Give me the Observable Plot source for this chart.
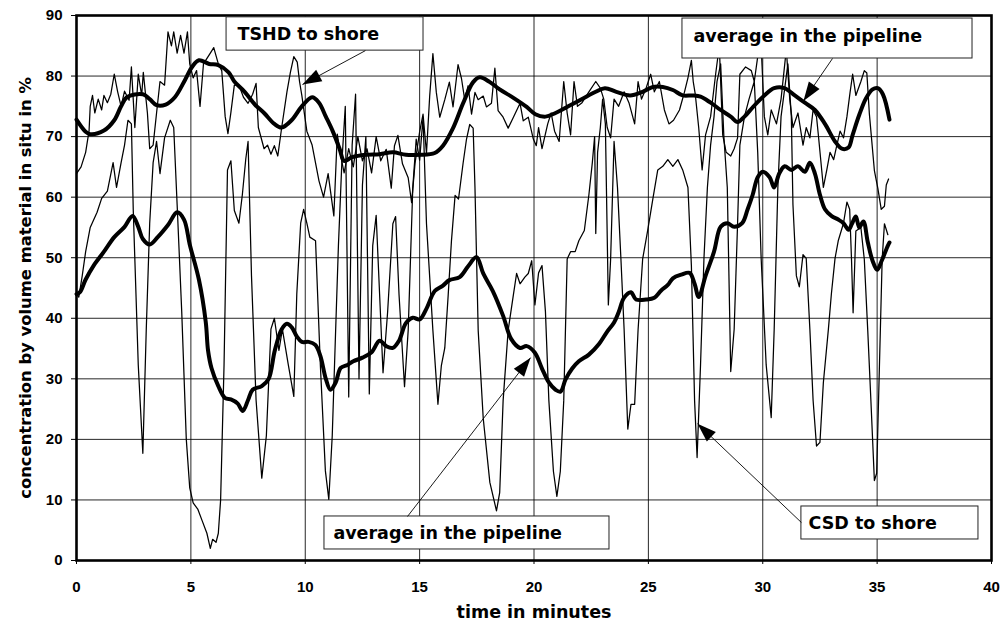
<!DOCTYPE html>
<html>
<head>
<meta charset="utf-8">
<script src="https://cdn.jsdelivr.net/npm/d3@7"></script>
<script src="https://cdn.jsdelivr.net/npm/@observablehq/plot@0.6"></script>
<style>
  html, body { margin: 0; padding: 0; background: #fff; }
  #chart { width: 1005px; height: 627px; }
</style>
</head>
<body>
<div id="chart"></div>
<script>
// Concentration by volume (% in situ) against time (minutes), [time, value]
const tshdShore = [
  [0,63.9],[0.2,65],[0.4,67.4],[0.55,71],[0.6,75],[0.7,76.8],[0.8,73.9],[0.95,76.2],[1.1,74.4],[1.2,76.8],
  [1.35,75.6],[1.5,77],[1.65,80.3],[1.8,77.4],[1.95,75],[2.1,77.5],[2.3,76],[2.4,81.5],[2.55,71.5],[2.7,80.3],
  [2.85,76.8],[2.92,80.6],[3.1,73.9],[3.2,68],[3.35,68.6],[3.5,73.9],[3.65,79.1],[3.85,78.5],[4.0,87.3],[4.15,85],
  [4.25,87.3],[4.4,83.8],[4.55,86.7],[4.7,83.8],[4.85,87.3],[4.95,82],[5.1,79.7],[5.25,80.9],[5.4,75],[5.55,82],
  [5.85,83.8],[6.0,84.7],[6.2,82],[6.35,80.9],[6.5,73.3],[6.62,70.5],[6.75,74],[6.9,78.5],[7.1,78.5],[7.3,76.5],
  [7.5,75.5],[7.7,77],[7.85,78.8],[7.95,71.5],[8.2,68],[8.35,68.6],[8.5,67.1],[8.65,68.5],[8.8,66.8],[8.97,71.5],
  [9.2,77.4],[9.35,80.6],[9.5,83.2],[9.65,82.3],[9.75,79.1],[9.85,76.8],[10.07,70.9],[10.3,68.6],[10.6,62.7],[10.8,60],
  [11.0,63.9],[11.25,56.9],[11.4,70.4],[11.55,66.8],[11.7,64],[11.9,68],[12.1,65],[12.3,70],[12.5,66],[12.7,68],
  [12.9,64],[13.1,70],[13.3,66],[13.54,67.9],[13.76,61.5],[13.9,68.5],[14.05,70.2],[14.25,65.5],[14.5,63.2],[14.65,59.1],
  [14.8,65.6],[15.0,70.8],[15.15,73.7],[15.3,67.3],[15.44,76.7],[15.58,83.7],[15.73,77.3],[15.88,73.2],[16.1,76.1],[16.3,79],
  [16.46,74.9],[16.68,81.9],[16.83,79.6],[16.97,76.1],[17.12,78.4],[17.27,73.7],[17.42,77.3],[17.56,76.1],[17.78,76.7],[17.92,74.9],
  [18.14,75.5],[18.29,81.3],[18.43,74.3],[18.65,73.2],[18.87,71.4],[19.1,73.2],[19.39,75.5],[19.53,72.6],[19.75,73.2],[19.97,69.6],
  [20.1,68.5],[20.2,71.5],[20.35,68],[20.6,72.1],[20.75,73.9],[20.9,70.9],[21.1,69.2],[21.3,79.1],[21.45,73.9],[21.6,70.3],
  [21.75,79.1],[21.9,75],[22.1,75.6],[22.4,77.4],[22.7,79.1],[22.9,78],[23.05,76.2],[23.2,71.5],[23.35,69.8],[23.5,76.2],
  [23.7,75],[23.94,77.4],[24.15,75.6],[24.4,72.1],[24.55,79.1],[24.7,76.2],[24.9,78],[25.1,80.3],[25.26,77.4],[25.48,79.1],
  [25.7,74.4],[25.9,72.1],[26.1,72.7],[26.36,74.4],[26.58,77.4],[26.73,79.7],[26.88,82.6],[26.96,79.1],[27.05,77],[27.2,71.5],
  [27.35,64.5],[27.5,70.3],[27.72,73.3],[27.94,80.3],[28.1,85],[28.25,70.3],[28.4,67.4],[28.6,66.8],[28.75,68],[28.9,69.8],
  [29.0,80.3],[29.25,81.5],[29.5,80.9],[29.63,79.1],[29.78,83.2],[29.93,85],[30.07,73.3],[30.22,70.3],[30.37,74.4],[30.6,72.1],
  [30.8,76.2],[31.03,84.4],[31.18,76.2],[31.32,71.5],[31.54,73.9],[31.76,68.6],[31.9,71.5],[32.06,69.8],[32.2,74.4],[32.35,73.3],
  [32.43,70.3],[32.65,61.6],[32.8,64.5],[32.94,67.4],[33.1,66.2],[33.24,68.6],[33.38,70.9],[33.53,69.8],[33.68,73.3],[33.82,77.4],
  [33.93,80.3],[34.07,76.8],[34.29,79.1],[34.44,80.9],[34.55,80.5],[34.66,73.8],[34.88,64.4],[35.03,61.5],[35.18,58],[35.32,58.5],
  [35.4,62],[35.5,63]
];

const tshdAverage = [
  [0,72.8],[0.4,70.8],[0.6,70.4],[1.2,71],[1.65,72.7],[1.95,75],[2.2,76.5],[2.9,77],[3.2,76.2],[3.5,75.2],
  [3.9,75.3],[4.3,76.5],[4.75,79.4],[5.05,81.5],[5.35,82.6],[5.8,82],[6.2,81.8],[6.65,80.6],[6.9,79.1],[7.35,77.4],
  [7.8,75.3],[8.2,73.9],[8.65,72.1],[8.97,71.5],[9.4,72.7],[9.85,75],[10.3,76.5],[10.6,75.6],[10.9,73.3],[11.2,70.9],
  [11.5,68],[11.7,66],[12.05,66.6],[12.65,67],[13.25,67.1],[13.83,67.4],[14.4,67],[15.0,67],[15.66,67.3],[16.02,68.5],
  [16.46,71.4],[16.9,75.5],[17.34,79],[17.63,79.8],[18.07,79],[18.5,77.8],[19.1,76.4],[19.68,74.9],[20.06,73.7],[20.5,73.3],
  [20.94,73.9],[21.5,75],[22.1,76.2],[22.7,77.4],[23.1,78],[23.6,77.4],[24.2,76.8],[24.75,77.4],[25.2,78.2],[25.63,78.2],
  [26.07,77.7],[26.5,76.8],[26.95,76.8],[27.28,76.6],[27.72,75.6],[28.16,74.4],[28.6,73.3],[28.9,72.4],[29.2,73.3],[29.6,75],
  [30.07,76.8],[30.5,78],[30.95,78],[31.4,76.8],[31.84,75.6],[32.28,74.4],[32.72,72.1],[33.16,69.2],[33.46,68],[33.75,68.2],
  [33.93,70.3],[34.22,73.6],[34.51,76.3],[34.8,77.8],[35.03,78],[35.25,77],[35.54,72.8]
];

const csdShore = [
  [0,44],[0.1,43.5],[0.25,47],[0.4,51],[0.6,55],[0.9,57.5],[1.1,59.8],[1.35,61],[1.6,65.7],[1.75,61.6],
  [1.95,65.7],[2.1,68.6],[2.25,72.7],[2.4,72.1],[2.48,58],[2.7,32.3],[2.9,17.7],[3.05,38.2],[3.2,55.7],[3.35,65.7],
  [3.5,69.2],[3.65,63.9],[3.85,69.8],[4.1,72.7],[4.25,71.5],[4.4,58.7],[4.6,41.1],[4.8,20],[4.95,12],[5.1,9.5],
  [5.3,8.5],[5.5,6.5],[5.7,4.5],[5.85,2],[5.95,3.5],[6.1,3],[6.2,4.5],[6.3,10],[6.45,32.3],[6.6,64.5],
  [6.75,66],[6.9,57.8],[7.1,55.7],[7.25,60.4],[7.4,66.3],[7.5,69.2],[7.65,47],[7.85,26.5],[8.1,13.6],[8.3,20.6],
  [8.5,38.2],[8.65,40],[8.85,34.7],[9.0,38.2],[9.26,32.3],[9.5,27.1],[9.63,44],[9.8,55.7],[9.93,58],[10.07,55.7],
  [10.2,53.4],[10.45,52.8],[10.66,32.3],[10.88,14.8],[11.03,10.1],[11.18,20.6],[11.33,38.2],[11.45,52],[11.6,65.7],[11.75,75],
  [11.9,27],[12.05,68.6],[12.2,77],[12.35,30],[12.5,62],[12.65,70],[12.8,27.5],[12.95,52],[13.1,57],[13.25,44],
  [13.4,31],[13.6,41],[13.83,55.6],[13.95,56.8],[14.1,43.9],[14.34,28.7],[14.5,38],[14.7,61.5],[14.85,69.6],[15.0,66.1],
  [15.15,73.2],[15.3,55.6],[15.58,38],[15.8,25.8],[15.95,32.2],[16.1,35.1],[16.25,43.9],[16.39,52.7],[16.55,60.3],[16.7,59.7],
  [16.9,65.6],[17.05,69.6],[17.19,72],[17.34,71.4],[17.42,61.5],[17.56,38],[17.78,23.5],[18.07,12.9],[18.36,8.2],[18.5,11.2],
  [18.65,26.4],[18.87,38],[19.1,43.9],[19.24,47.4],[19.39,45.7],[19.6,46.8],[19.75,47.4],[19.9,49.5],[20.04,42.2],[20.2,47.5],
  [20.35,48.7],[20.5,41.1],[20.65,26.4],[20.85,14.7],[21.0,10.6],[21.15,14.7],[21.3,26.4],[21.45,49.8],[21.6,51],[21.8,51],
  [21.96,52.8],[22.2,54.5],[22.4,60.4],[22.55,65.7],[22.65,70],[22.7,54],[22.78,67.4],[22.9,71.5],[23.0,76.2],[23.12,72.1],
  [23.25,42.2],[23.35,49.8],[23.5,69.2],[23.65,61.6],[23.8,49.8],[23.94,38.1],[24.1,21.7],[24.24,25.8],[24.4,25.8],[24.55,38.1],
  [24.75,49.8],[24.97,54.5],[25.2,59.8],[25.41,64.5],[25.63,65.1],[25.85,66.2],[26.07,65.1],[26.29,66.2],[26.5,64.5],[26.73,61.6],
  [26.88,48.7],[27.02,26.4],[27.13,17],[27.28,32.3],[27.43,49.9],[27.58,61.6],[27.72,68.6],[27.87,73.3],[28.0,79.1],[28.16,82],
  [28.3,70],[28.45,61.6],[28.6,31.2],[28.75,38.2],[28.9,55.7],[29.0,68.6],[29.2,73.3],[29.4,76.2],[29.63,79.1],[29.78,67.4],
  [29.93,49.9],[30.15,32.3],[30.37,23.6],[30.5,38.2],[30.66,61.6],[30.8,73.3],[31.1,82],[31.25,73.3],[31.32,58.8],[31.47,47],
  [31.6,45.2],[31.76,50.5],[31.9,49.9],[32.06,38.2],[32.2,26.5],[32.35,18.9],[32.5,19.5],[32.65,29.4],[32.87,38.2],[33.0,44],
  [33.16,49.9],[33.3,52.8],[33.53,55.7],[33.68,59.2],[33.8,58],[33.88,49.7],[33.95,40.9],[34.07,54.4],[34.29,55],[34.44,49.7],
  [34.59,38],[34.73,26.2],[34.88,13.2],[34.98,14.4],[35.1,32],[35.22,49.7],[35.32,55.6],[35.47,53.8]
];

const csdAverage = [
  [0,44],[0.15,44.3],[0.4,46.4],[0.75,48.7],[1.2,51],[1.65,53.4],[2.1,55.1],[2.45,56.9],[2.7,55.1],[2.9,53.1],
  [3.2,52.2],[3.55,53.4],[4.0,55.4],[4.4,57.5],[4.7,56.3],[4.95,52.2],[5.35,46.4],[5.65,39.4],[5.75,34.7],[5.9,31.8],
  [6.2,28.8],[6.5,26.8],[6.75,26.6],[7.05,25.9],[7.27,24.7],[7.5,26.5],[7.7,28.2],[8.1,28.8],[8.4,30],[8.67,34.7],
  [8.97,38.2],[9.2,39.1],[9.41,38.5],[9.63,37],[9.85,36.1],[10.15,36.1],[10.44,35.6],[10.66,33.8],[10.9,30],[11.1,28.2],
  [11.33,29.4],[11.55,31.8],[11.85,32.3],[12.1,32.9],[12.5,33.5],[12.9,34.4],[13.25,36.3],[13.54,35.4],[13.83,35.1],[14.1,36.3],
  [14.4,39.2],[14.7,40.1],[15.0,39.8],[15.3,41.6],[15.66,44.5],[16.02,45.4],[16.3,46.3],[16.75,46.8],[17.12,48.6],[17.49,50.1],
  [17.78,47.4],[18.2,44.5],[18.65,40.4],[19.0,36.6],[19.39,35.1],[19.68,35.4],[20.04,34.3],[20.35,31.7],[20.65,29.4],[20.94,28.2],
  [21.16,27.9],[21.38,29.9],[21.67,31.7],[21.96,32.9],[22.4,34],[22.85,35.8],[23.2,37.8],[23.5,39.3],[23.7,41],[23.94,43.4],
  [24.24,44.3],[24.46,43.1],[24.9,43.1],[25.26,43.4],[25.56,44.6],[25.85,45.5],[26.07,46.6],[26.44,47.2],[26.8,47.5],[27.02,45.7],
  [27.2,43.5],[27.5,47],[27.87,51],[28.16,55.1],[28.45,55.7],[28.75,55.1],[29.1,55.7],[29.34,58],[29.56,60.4],[29.78,63.3],
  [30.0,64.2],[30.3,63.3],[30.5,61.6],[30.72,63.9],[30.96,65.1],[31.25,64.5],[31.54,65.1],[31.84,64.2],[32.06,65.7],[32.28,63.9],
  [32.5,60.4],[32.72,58],[33.0,56.9],[33.3,56.3],[33.53,55.7],[33.75,54.6],[33.9,55.6],[34.07,56.8],[34.22,55],[34.4,56],
  [34.59,52.6],[34.8,49.5],[35.0,48],[35.2,49.5],[35.47,52],[35.54,52.5]
];

const xTicks = [0, 5, 10, 15, 20, 25, 30, 35, 40];
const yTicks = [0, 10, 20, 30, 40, 50, 60, 70, 80, 90];
const xLabel = "time in minutes";
const yLabel = "concentration by volume material in situ in %";

// Callout boxes (data units): box extent, text anchor, leader line start and arrow tip
const callouts = [
  {label: "TSHD to shore",           box: [6.56, 15.17, 84.2, 89.7], text: [7.04, 86.9],  from: [12.63, 84.2], tip: [9.88, 78.6]},
  {label: "average in the pipeline", box: [26.49, 39.17, 82.9, 89.5], text: [26.97, 86.5], from: [33.05, 82.9], tip: [31.78, 75.9]},
  {label: "average in the pipeline", box: [10.84, 23.3, 1.82, 7.27],  text: [11.23, 4.5],  from: [14.47, 7.27], tip: [19.85, 33.5]},
  {label: "CSD to shore",            box: [31.69, 39.43, 3.47, 8.92], text: [32.0, 6.2],   from: [31.69, 6.27], tip: [27.15, 22.6]}
];

const W = 1005, H = 627, ML = 76, MR = 14, MT = 15, MB = 67;
const kx = (W - ML - MR) / 40;  // px per minute
const ky = (H - MT - MB) / 90;  // px per percent

// heading of each leader line on screen, in degrees clockwise from "up"
const heading = (c) => {
  const dx = (c.tip[0] - c.from[0]) * kx;
  const dy = -(c.tip[1] - c.from[1]) * ky;
  return Math.atan2(dx, -dy) * 180 / Math.PI;
};

// filled arrowhead with its point at the origin, pointing up
const arrowHead = {
  draw(context) {
    context.moveTo(0, 0);
    context.lineTo(-6.5, 19);
    context.lineTo(6.5, 19);
    context.closePath();
  }
};

const labelFont = "'DejaVu Sans', sans-serif";

const chart = Plot.plot({
  width: W,
  height: H,
  marginLeft: ML,
  marginRight: MR,
  marginTop: MT,
  marginBottom: MB,
  style: {background: "#fff", color: "#000", fontFamily: "'Liberation Sans', Arial, sans-serif", fontWeight: "bold"},
  x: {domain: [0, 40]},
  y: {domain: [0, 90]},
  marks: [
    Plot.gridY(yTicks, {stroke: "#000", strokeOpacity: 0.85, strokeWidth: 1}),
    Plot.gridX(xTicks, {stroke: "#000", strokeOpacity: 0.85, strokeWidth: 1}),
    Plot.line(tshdShore, {x: d => d[0], y: d => d[1], stroke: "#000", strokeWidth: 1.25}),
    Plot.line(csdShore, {x: d => d[0], y: d => d[1], stroke: "#000", strokeWidth: 1.25}),
    Plot.line(tshdAverage, {x: d => d[0], y: d => d[1], stroke: "#000", strokeWidth: 4, curve: "catmull-rom"}),
    Plot.line(csdAverage, {x: d => d[0], y: d => d[1], stroke: "#000", strokeWidth: 4, curve: "catmull-rom"}),
    Plot.frame({stroke: "#000", strokeWidth: 2.6}),
    Plot.axisX(xTicks, {tickSize: 4, tickPadding: 17, fontSize: 15, fontWeight: "bold", label: null}),
    Plot.axisY(yTicks, {tickSize: 5, tickPadding: 9, fontSize: 15, fontWeight: "bold", label: null}),
    Plot.rect(callouts, {x1: d => d.box[0], x2: d => d.box[1], y1: d => d.box[2], y2: d => d.box[3],
      fill: "#fff", stroke: "#222", strokeWidth: 1}),
    Plot.link(callouts, {x1: d => d.from[0], y1: d => d.from[1], x2: d => d.tip[0], y2: d => d.tip[1],
      stroke: "#000", strokeWidth: 0.9}),
    Plot.dot(callouts, {x: d => d.tip[0], y: d => d.tip[1], symbol: arrowHead, rotate: heading,
      fill: "#000", stroke: "none"}),
    Plot.text(callouts, {x: d => d.text[0], y: d => d.text[1], text: d => d.label, textAnchor: "start",
      fontFamily: labelFont, fontWeight: "bold", fontSize: 17.5, fill: "#000"}),
    Plot.text([yLabel], {text: d => d, frameAnchor: "left", textAnchor: "middle", dx: -51, rotate: -90,
      fontFamily: labelFont, fontWeight: "bold", fontSize: 16.4, fill: "#000"}),
    Plot.text([xLabel], {text: d => d, frameAnchor: "bottom", textAnchor: "middle", dy: 57,
      fontFamily: labelFont, fontWeight: "bold", fontSize: 17.5, fill: "#000"})
  ]
});

document.getElementById("chart").appendChild(chart);
</script>
</body>
</html>
